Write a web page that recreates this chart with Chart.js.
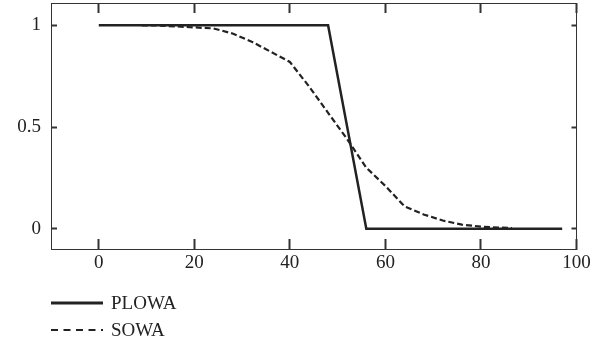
<!DOCTYPE html>
<html>
<head>
<meta charset="utf-8">
<script src="https://cdn.jsdelivr.net/npm/chart.js@4/dist/chart.umd.min.js"></script>
<style>
  body { margin: 0; background: #fff; }
  #wrap { position: relative; width: 605px; height: 347px; }
  #legend { position: absolute; left: 51px; top: 289px; font-family: 'Liberation Serif', serif; font-size: 19px; color: #222; }
  .row { display: flex; align-items: center; height: 27px; }
  .row svg { margin-right: 8px; }
</style>
</head>
<body>
<div id="wrap">
  <canvas id="chart" width="605" height="347"></canvas>
  <div id="legend"></div>
</div>
<script>
const xTicks = [0, 20, 40, 60, 80, 100];
const yTicks = [0, 0.5, 1];

const seriesNames = ['PLOWA', 'SOWA'];

const plowaX = [0, 48, 56, 97];
const plowaY = [1, 1, 0, 0];

const sowaX = [9, 12, 16, 20, 24, 28, 32, 36, 40, 44, 48, 52, 56, 60, 64, 68, 72, 76, 80, 84, 86.5];
const sowaY = [1.0, 1.0, 0.995, 0.99, 0.985, 0.96, 0.92, 0.87, 0.82, 0.70, 0.57, 0.44, 0.30, 0.21, 0.11, 0.07, 0.04, 0.02, 0.01, 0.005, 0.003];

const ink = '#222';
const axisFont = { family: 'Liberation Serif', size: 19 };

function toPoints(xs, ys) {
    return xs.map((x, i) => ({ x: x, y: ys[i] }));
}

// every axis: inward ticks, no grid, fixed size, no label overflow padding
function axis(position, ticks, tickLen, size, extra) {
    return Object.assign({
        type: 'linear',
        position: position,
        afterBuildTicks: s => { s.ticks = ticks.map(v => ({ value: v })); },
        afterFit: s => {
            if (s.isHorizontal()) s.height = size; else s.width = size;
            s.paddingTop = s.paddingBottom = s.paddingLeft = s.paddingRight = 0;
        },
        grid: { drawOnChartArea: false, drawTicks: true, tickLength: tickLen, tickWidth: 2, tickColor: '#333' },
        border: { display: true, color: '#333', width: 1 },
        ticks: { font: axisFont, color: ink, autoSkip: false, maxRotation: 0, callback: v => String(v) }
    }, extra);
}

const chart = new Chart(document.getElementById('chart'), {
    type: 'line',
    data: {
        datasets: [{
            label: seriesNames[0],
            data: toPoints(plowaX, plowaY),
            borderColor: ink,
            borderWidth: 2.5,
            pointRadius: 0,
            tension: 0
        }, {
            label: seriesNames[1],
            data: toPoints(sowaX, sowaY),
            borderColor: ink,
            borderWidth: 2.2,
            borderDash: [6, 3],
            pointRadius: 0,
            tension: 0
        }]
    },
    options: {
        responsive: false,
        animation: false,
        devicePixelRatio: 1,
        layout: { padding: { left: 0, top: 3, right: 28.5, bottom: 0 } },
        plugins: { legend: { display: false }, tooltip: { enabled: false } },
        scales: {
            x: axis('bottom', xTicks, -10, 98, { min: -10, max: 100 }),
            x2: axis('top', xTicks, -10, 0, { min: -10, max: 100 }),
            y: axis('left', yTicks, -6, 51, { min: -0.1, max: 1.11 }),
            y2: axis('right', yTicks, -5, 0, { min: -0.1, max: 1.11 })
        }
    }
});
chart.options.scales.x.ticks.padding = 13;
chart.options.scales.y.ticks.padding = 16;
chart.options.scales.x2.ticks.display = false;
chart.options.scales.y2.ticks.display = false;
chart.update();

// legend below the plot, one row per dataset
const legend = document.getElementById('legend');
chart.data.datasets.forEach(ds => {
    const row = document.createElement('div');
    row.className = 'row';
    const dash = ds.borderDash ? '7 5.5' : 'none';
    row.innerHTML = '<svg width="52" height="6"><line x1="0" y1="3" x2="52" y2="3" stroke="' + ink +
        '" stroke-width="' + (ds.borderDash ? 2 : 2.8) + '" stroke-dasharray="' + dash + '"/></svg>' +
        '<span>' + ds.label + '</span>';
    legend.appendChild(row);
});
</script>
</body>
</html>
